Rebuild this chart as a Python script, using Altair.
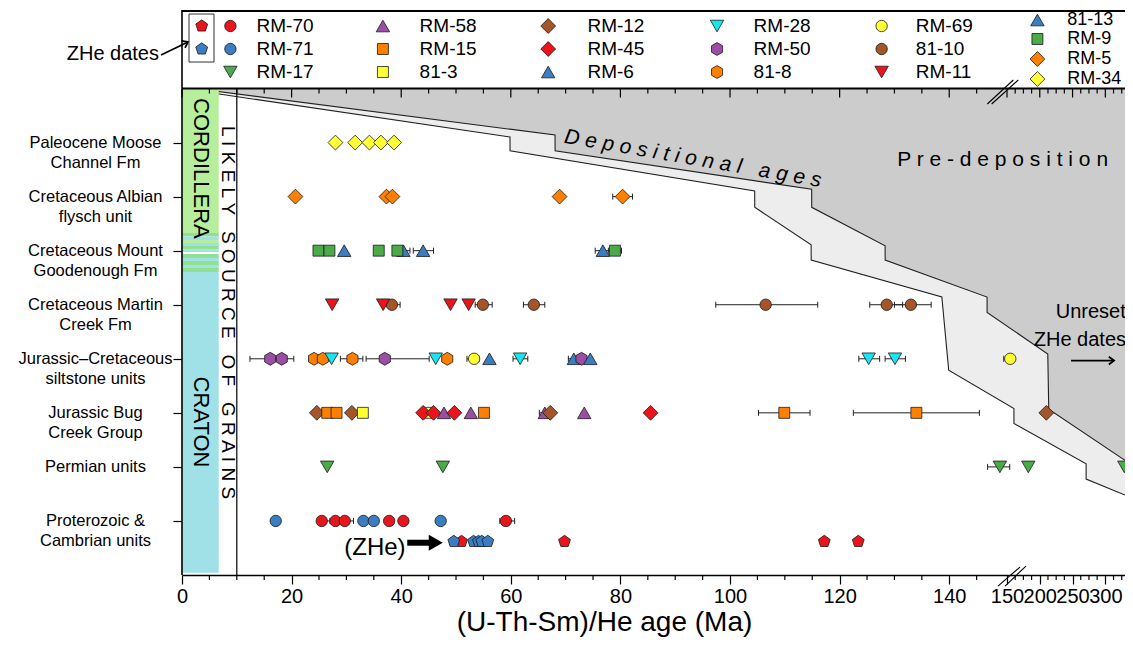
import altair as alt
import pandas as pd

# ---------------- categories / samples ----------------
unit_labels = [
    "Paleocene Moose|Channel Fm",
    "Cretaceous Albian|flysch unit",
    "Cretaceous Mount|Goodenough Fm",
    "Cretaceous Martin|Creek Fm",
    "Jurassic–Cretaceous|siltstone units",
    "Jurassic Bug|Creek Group",
    "Permian units",
    "Proterozoic &|Cambrian units",
]
unit_rows = [1, 2, 3, 4, 5, 6, 7, 8]
zhe_row = 8.38

samples = ["RM-70", "RM-71", "RM-17", "RM-58", "RM-15", "81-3", "RM-12", "RM-45", "RM-6",
           "RM-28", "RM-50", "81-8", "RM-69", "81-10", "RM-11", "81-13", "RM-9", "RM-5", "RM-34"]
sample_colors = ["#e8161c", "#3a7dc0", "#4aab48", "#9a4fa5", "#ff8000", "#ffff33", "#a5552a", "#e8161c", "#3a7dc0",
                 "#18e4f2", "#9a4fa5", "#ff8000", "#ffff33", "#a5552a", "#e8161c", "#3a7dc0", "#4aab48", "#ff8000", "#ffff33"]
sample_shapes = ["circle", "circle", "triangle-down", "triangle-up", "square", "square", "diamond", "diamond",
                 "triangle-up", "triangle-down", "hexagon", "hexagon", "circle", "circle", "triangle-down",
                 "triangle-up", "square", "diamond", "diamond"]

# ---------------- ages (Ma): (sample, age[, err_lo, err_hi]) ----------------
paleocene = [("RM-34", 28.0), ("RM-34", 31.6), ("RM-34", 34.2), ("RM-34", 36.3), ("RM-34", 38.7)]
albian = [("RM-5", 20.7), ("RM-5", 37.3), ("RM-5", 38.4), ("RM-5", 68.9), ("RM-5", 80.4, 78.6, 82.2)]
goodenough = [("RM-9", 24.9), ("RM-9", 26.9), ("81-13", 29.6), ("RM-9", 35.9), ("81-13", 40.4, 39.5, 41.6),
              ("RM-9", 39.3), ("81-13", 44.0, 42.2, 45.9), ("81-13", 76.8, 75.4, 78.2), ("RM-9", 79.0, 77.8, 80.2)]
martin = [("RM-11", 27.4), ("81-10", 38.3, 36.8, 39.8), ("RM-11", 36.7), ("RM-11", 49.0),
          ("81-10", 54.9, 53.5, 56.6), ("RM-11", 52.3), ("81-10", 64.2, 62.3, 66.2),
          ("81-10", 106.5, 97.4, 116.0), ("81-10", 128.6, 125.5, 131.5), ("81-10", 133.0, 130.0, 136.7)]
siltstone = [("RM-50", 16.1, 12.4, 19.0), ("RM-50", 18.2, 16.5, 20.4), ("81-8", 24.1, 23.4, 25.0),
             ("81-8", 25.7, 24.6, 27.0), ("RM-28", 27.3), ("81-8", 31.1, 28.9, 33.0), ("RM-50", 37.0, 33.6, 45.1),
             ("RM-28", 46.3), ("81-8", 48.4), ("RM-69", 53.3, 52.0, 54.2), ("RM-6", 56.1),
             ("RM-28", 61.7, 60.4, 63.1), ("RM-6", 71.5, 70.5, 72.5), ("RM-50", 72.9), ("RM-6", 74.5),
             ("RM-28", 125.3, 123.5, 127.3), ("RM-28", 130.1, 128.3, 132.0), ("RM-69", 155.0, 149.5, 156.0)]
bug_creek = [("RM-12", 24.6), ("RM-15", 26.5, 25.5, 27.5), ("RM-15", 28.2), ("RM-12", 31.0), ("81-3", 33.0),
             ("81-3", 45.0), ("RM-45", 44.0), ("RM-45", 45.9), ("RM-58", 47.8), ("RM-45", 49.7), ("RM-58", 52.7),
             ("RM-15", 55.1), ("RM-58", 66.2, 65.2, 67.0), ("RM-12", 67.2), ("RM-58", 73.4), ("RM-45", 85.5),
             ("RM-15", 109.9, 105.2, 114.6), ("RM-15", 134.0, 122.5, 145.5), ("RM-12", 210.0)]
permian = [("RM-17", 26.5), ("RM-17", 47.6), ("RM-17", 148.9, 147.0, 154.2), ("RM-17", 182.5), ("RM-17", 329.0)]
proterozoic = [("RM-71", 17.1), ("RM-70", 25.5, 25.0, 27.0), ("RM-70", 28.0), ("RM-70", 29.7, 28.6, 31.3),
               ("RM-71", 33.1), ("RM-71", 35.0), ("RM-70", 37.8), ("RM-70", 40.4), ("RM-71", 47.2),
               ("RM-70", 59.1, 58.0, 60.7)]
zhe_dates = [("RM-70", 51.0), ("RM-71", 49.6), ("RM-71", 53.2), ("RM-71", 54.1), ("RM-71", 54.7),
             ("RM-71", 55.8), ("RM-70", 69.8), ("RM-70", 117.2), ("RM-70", 123.4)]
unit_points = [paleocene, albian, goodenough, martin, siltstone, bug_creek, permian, proterozoic]

# depositional-age envelope (Ma, row); x strictly increasing
upper_x = [2.37, 68.07, 68.08, 114.9, 114.91, 128.3, 128.31, 146.9, 146.91, 212.2, 213.7, 330]
upper_y = [0, 0.86, 1.15, 1.865, 2.198, 2.91, 3.173, 3.858, 4.141, 4.914, 5.935, 6.88]
lower_x = [0, 59.85, 59.86, 104.5, 104.51, 114.8, 114.81, 138.65, 139.9, 160.6, 160.61, 270.7, 270.71, 330]
lower_y = [0, 0.897, 1.15, 1.896, 2.198, 2.892, 3.173, 3.858, 5.21, 5.922, 6.198, 6.942, 7.225, 7.52]

# axis ticks
x_label_values = [0, 20, 40, 60, 80, 100, 120, 140, 150, 200, 250, 300]
x_minor = [v for v in range(5, 150, 5) if v % 20 != 0] + [162.5, 175, 187.5, 212.5, 225, 237.5, 262.5, 275,
                                                          287.5, 312.5, 325]

# ---------------- layout / styles ----------------
FONT = "Liberation Sans, Arial, sans-serif"
Y_TOP, Y_BOT = -1.4524, 9.0
PX_ROW = 565 / (Y_BOT - Y_TOP)
HEX = "M0,-1L0.866,-0.5L0.866,0.5L0,1L-0.866,0.5L-0.866,-0.5Z"
PENT = "M0,-1L0.951,-0.309L0.588,0.809L-0.588,0.809L-0.951,-0.309Z"
SYM_PATH = {"hexagon": HEX, "pentagon": PENT}
SYM_SIZE = {"circle": 130, "square": 120, "diamond": 220, "triangle-up": 180, "triangle-down": 180,
            "hexagon": 165, "pentagon": 155}
NB = "\u00a0"

XS = alt.Scale(domain=[0, 147, 150, 330], range=[0, 805.6, 825, 943], nice=False, zero=False)
YS = alt.Scale(domain=[Y_TOP, Y_BOT], reverse=True, nice=False, zero=False)

js_labels = "[" + ",".join("'" + s + "'" for s in [""] + unit_labels) + "]"
AX_X = alt.Axis(
    values=x_label_values, format="d", labelFont=FONT, labelFontSize=20, labelColor="black",
    tickSize=9, tickColor="black", tickWidth=1.2, domainColor="black", domainWidth=1.6,
    labelPadding=2, labelOverlap=False, labelFlush=False, grid=False,
    title="(U-Th-Sm)/He age (Ma)", titleFont=FONT, titleFontSize=28, titleFontWeight="normal",
    titleColor="black", titlePadding=2, titleX=422, titleAlign="center")
AX_Y = alt.Axis(
    values=unit_rows, labelExpr="split(" + js_labels + "[round(datum.value)], '|')",
    labelFont=FONT, labelFontSize=16.5, labelColor="black", labelAlign="center", labelBaseline="middle",
    labelPadding=78, labelLineHeight=20, labelOverlap=False, labelFlush=False, labelBound=False,
    tickSize=9, tickColor="black", tickWidth=1.2, domain=False, grid=False, title=None)


def X(f):
    return alt.X(f, type="quantitative", scale=XS, axis=AX_X)


def Y(f, **kw):
    return alt.Y(f, type="quantitative", scale=YS, axis=AX_Y, **kw)


shape_of = dict(zip(samples, sample_shapes))
recs = []
for row, lst in zip(unit_rows, unit_points):
    for t in lst:
        shp = shape_of[t[0]]
        recs.append(dict(sample=t[0], age=t[1], row=row,
                         lo=t[2] if len(t) > 2 else None, hi=t[3] if len(t) > 2 else None,
                         shape=SYM_PATH.get(shp, shp), size=SYM_SIZE[shp]))
for s, a in zhe_dates:
    recs.append(dict(sample=s, age=a, row=zhe_row, lo=None, hi=None, shape=PENT, size=SYM_SIZE["pentagon"]))
pts = pd.DataFrame(recs)
err = pts.dropna(subset=["lo"]).copy()
cap = 3.0 / PX_ROW
err["r0"] = err["row"] - cap
err["r1"] = err["row"] + cap

fill_enc = alt.Fill("sample:N", scale=alt.Scale(domain=samples, range=sample_colors), legend=None)

# ---------- envelope ----------
low_df = pd.DataFrame({"x": lower_x, "y": lower_y, "y0": 0.0})
up_df = pd.DataFrame({"x": upper_x, "y": upper_y, "y0": 0.0})
light = alt.Chart(low_df).mark_area(color="#ededed", opacity=1).encode(x=X("x"), y=Y("y", stack=False), y2="y0")
dark = alt.Chart(up_df).mark_area(color="#cccccc", opacity=1).encode(x=X("x"), y=Y("y", stack=False), y2="y0")
low_line = alt.Chart(low_df).mark_line(color="#222", strokeWidth=1.1).encode(x=X("x"), y=Y("y"))
up_line = alt.Chart(up_df).mark_line(color="#222", strokeWidth=1.1).encode(x=X("x"), y=Y("y"))

# ---------- source bar ----------
bar_df = pd.DataFrame({
    "x0": 0.0, "x1": 6.7,
    "r0": [0, 2.673, 2.738, 2.803, 2.858, 2.914, 2.979, 3.025, 3.062, 3.136, 3.192, 3.266, 3.321, 3.395],
    "r1": [2.673, 2.738, 2.803, 2.858, 2.914, 2.979, 3.025, 3.062, 3.136, 3.192, 3.266, 3.321, 3.395, 8.96],
    "fill": ["#b7ee9b", "#8fe08f", "#a0e0e8", "#b7ee9b", "#a0e0e8", "#8fe08f", "#a0e0e8", "#ffffff",
             "#8fe08f", "#a0e0e8", "#8fe08f", "#a0e0e8", "#8fe08f", "#9fe1e7"],
})
bar = alt.Chart(bar_df).mark_rect().encode(x=X("x0"), x2="x1", y=Y("r0"), y2="r1",
                                           fill=alt.Fill("fill:N", scale=None))
src_line = alt.Chart(pd.DataFrame({"x": [10], "a": [0.0], "b": [9.0]})).mark_rule(
    color="black", strokeWidth=1.2).encode(x=X("x"), y=Y("a"), y2="b")

# ---------- error bars & points ----------
err_rule = alt.Chart(err).mark_rule(color="#222", strokeWidth=1).encode(x=X("lo"), x2="hi", y=Y("row"))
cap_lo = alt.Chart(err).mark_rule(color="#222", strokeWidth=1).encode(x=X("lo"), y=Y("r0"), y2="r1")
cap_hi = alt.Chart(err).mark_rule(color="#222", strokeWidth=1).encode(x=X("hi"), y=Y("r0"), y2="r1")

points = alt.Chart(pts).mark_point(filled=True, stroke="#1a1a1a", strokeWidth=0.8, opacity=1).encode(
    x=X("age"), y=Y("row"), fill=fill_enc,
    shape=alt.Shape("shape:N", scale=None), size=alt.Size("size:Q", scale=None))

# ---------- frames & ticks ----------
maj = 9 / PX_ROW
mnr = 5 / PX_ROW
top_ticks = pd.DataFrame({"x": [v for v in x_label_values] + x_minor,
                          "a": 0.0, "b": [maj] * len(x_label_values) + [mnr] * len(x_minor)})
bot_ticks = pd.DataFrame({"x": x_minor, "a": Y_BOT, "b": Y_BOT + mnr})
ticks_top = alt.Chart(top_ticks).mark_rule(color="black", strokeWidth=1.2).encode(x=X("x"), y=Y("a"), y2="b")
ticks_bot = alt.Chart(bot_ticks).mark_rule(color="black", strokeWidth=1.2).encode(x=X("x"), y=Y("a"), y2="b")
hframes = pd.DataFrame({"x": [0, 0], "x2": [330, 330], "y": [0.0, Y_TOP + 0.02]})
hframe = alt.Chart(hframes).mark_rule(color="black", strokeWidth=2).encode(x=X("x"), x2="x2", y=Y("y"))
vframes = pd.DataFrame({"x": [0, 0], "a": [0, Y_TOP], "b": [9, 0]})
vframe = alt.Chart(vframes).mark_rule(color="black", strokeWidth=1.6).encode(x=X("x"), y=Y("a"), y2="b")
brk = pd.DataFrame({"x": [146.95, 147.63, 148.6, 149.7], "x2": [159.6, 167.2, 169.8, 178.96],
                    "y": [0.287, 0.287, 9.205, 9.205], "y2": [-0.157, -0.157, 8.853, 8.834]})
breaks = alt.Chart(brk).mark_rule(color="black", strokeWidth=1.1).encode(x=X("x"), x2="x2", y=Y("y"), y2="y2")


# ---------- text annotations ----------
def txt(df, **kw):
    return alt.Chart(df).mark_text(font=FONT, color="black", **kw).encode(x=X("x"), y=Y("y"), text="t:N")


t_dep = txt(pd.DataFrame({"x": [93.2], "y": [1.304],
                          "t": ["D e p o s i t i o n a l" + NB + NB + " a g e s"]}),
            fontSize=21, fontStyle="italic", angle=9.8, align="center", baseline="middle")
t_pre = txt(pd.DataFrame({"x": [130.5], "y": [1.323], "t": ["P r e - d e p o s i t i o n"]}),
            fontSize=21, align="left", baseline="middle")
t_unreset = txt(pd.DataFrame({"x": [224.3, 190.8], "y": [4.135, 4.653], "t": ["Unreset", "ZHe dates"]}),
                fontSize=20, align="left", baseline="middle")
t_zhe = txt(pd.DataFrame({"x": [35.2], "y": [8.50], "t": ["(ZHe)"]}), fontSize=24, align="center",
            baseline="middle")
t_zhe_leg = txt(pd.DataFrame({"x": [-4.2], "y": [-0.646], "t": ["ZHe dates"]}), fontSize=20, align="right",
                baseline="middle")
t_cord = txt(pd.DataFrame({"x": [3.5, 3.5], "y": [1.478, 6.17], "t": ["CORDILLERA", "CRATON"]}),
             fontSize=22, angle=90, align="center", baseline="middle")
t_src = txt(pd.DataFrame({"x": [8.4], "y": [4.144],
                          "t": ["L I K E L Y" + NB + NB + " S O U R C E" + NB + NB + " O F" + NB + NB
                                + " G R A I N S"]}),
            fontSize=19, angle=90, align="center", baseline="middle")

# arrows
arr_lines = pd.DataFrame({"x": [-3.83, 247.7], "x2": [1.1, 313.3], "y": [-0.62, 5.034], "y2": [-0.86, 5.034]})
arrows = alt.Chart(arr_lines).mark_rule(color="black", strokeWidth=1.6).encode(x=X("x"), x2="x2", y=Y("y"),
                                                                              y2="y2")
head_df = pd.DataFrame({"x": [1.1, 313.3], "y": [-0.86, 5.034], "ang": [334, 0]})
heads = alt.Chart(head_df).mark_point(shape="M-1,-0.75L0,0L-1,0.75", filled=False, color="black",
                                      strokeWidth=1.8, size=110, opacity=1).encode(
    x=X("x"), y=Y("y"), angle=alt.Angle("ang:Q", scale=None))
thick = alt.Chart(pd.DataFrame({"x": [41.1], "x2": [45.6], "y": [8.403]})).mark_rule(
    color="black", strokeWidth=6).encode(x=X("x"), x2="x2", y=Y("y"))
thick_head = alt.Chart(pd.DataFrame({"x": [46.3], "y": [8.403]})).mark_point(
    shape="triangle-right", filled=True, color="black", size=260, opacity=1).encode(x=X("x"), y=Y("y"))

# ---------- manual legend ----------
leg_sym_x = [8.83, 36.66, 66.82, 97.63, 127.66, 196.4]
leg_txt_x = [13.6, 43.36, 73.98, 104.3, 133.9, 241.8]
leg_rows3 = [-1.156, -0.731, -0.305]
leg_rows4 = [-1.267, -0.916, -0.546, -0.176]
lrec = []
k = 0
for c in range(6):
    rows = leg_rows4 if c == 5 else leg_rows3
    for r in rows:
        s = samples[k]
        shp = sample_shapes[k]
        lrec.append(dict(sample=s, x=leg_sym_x[c], tx=leg_txt_x[c], y=r, shape=SYM_PATH.get(shp, shp),
                         size=SYM_SIZE[shp], fs=18 if c == 5 else 19))
        k += 1
lrec.append(dict(sample="RM-70", x=3.6, tx=None, y=-1.156, shape=PENT, size=SYM_SIZE["pentagon"], fs=19))
lrec.append(dict(sample="RM-71", x=3.6, tx=None, y=-0.731, shape=PENT, size=SYM_SIZE["pentagon"], fs=19))
leg = pd.DataFrame(lrec)
leg_pts = alt.Chart(leg).mark_point(filled=True, stroke="#1a1a1a", strokeWidth=0.8, opacity=1).encode(
    x=X("x"), y=Y("y"), fill=fill_enc, shape=alt.Shape("shape:N", scale=None), size=alt.Size("size:Q", scale=None))
leg_txt = alt.Chart(leg.dropna(subset=["tx"])).mark_text(font=FONT, color="black", align="left",
                                                         baseline="middle").encode(
    x=X("tx"), y=Y("y"), text="sample:N", size=alt.Size("fs:Q", scale=None))
zbox = alt.Chart(pd.DataFrame({"x": [1.28], "x2": [5.84], "y": [-1.378], "y2": [-0.49]})).mark_rect(
    fillOpacity=0, stroke="#333", strokeWidth=1).encode(x=X("x"), x2="x2", y=Y("y"), y2="y2")

chart = alt.layer(
    light, dark, low_line, up_line, bar, src_line, ticks_top, ticks_bot, hframe, vframe, breaks,
    t_dep, t_pre, t_unreset, t_zhe, t_zhe_leg, t_cord, t_src, arrows, heads, thick, thick_head,
    err_rule, cap_lo, cap_hi, points, leg_pts, leg_txt, zbox,
).properties(
    width=943, height=565,
    autosize=alt.AutoSizeParams(type="none"),
    padding={"left": 174, "top": 2, "right": 0, "bottom": 72},
).configure_view(strokeWidth=0)

chart.save("out.html", embed_options={"renderer": "svg", "actions": False})
